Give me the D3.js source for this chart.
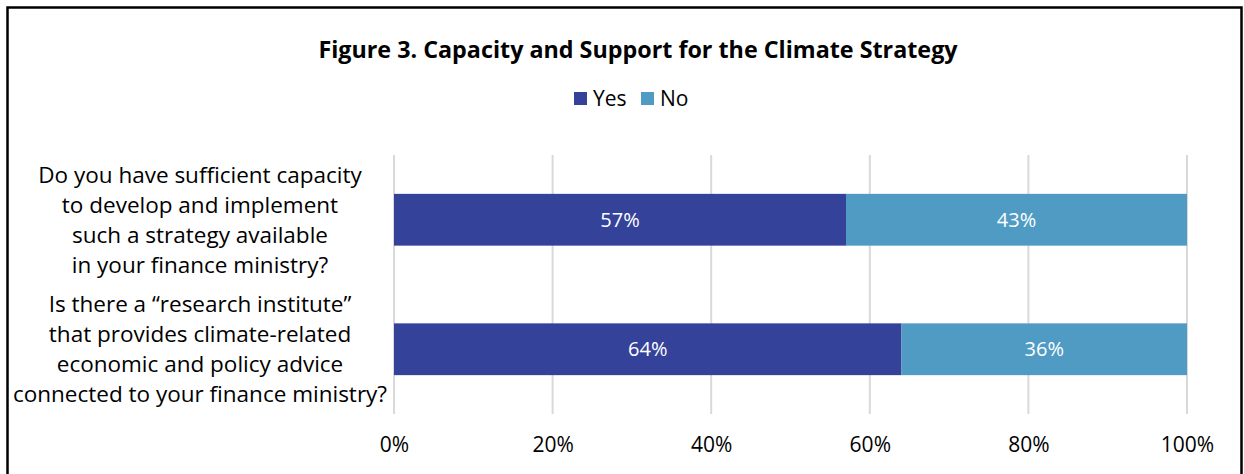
<!DOCTYPE html>
<html>
<head>
<meta charset="utf-8">
<script src="https://cdn.jsdelivr.net/npm/d3@7"></script>
<style>
  body { margin: 0; background: #fff; }
  svg { display: block; font-family: "Open Sans", Lato, sans-serif; }
</style>
</head>
<body>
<div id="chart"></div>
<script>
// chart data
var questions = [
  ["Do you have sufficient capacity", "to develop and implement", "such a strategy available", "in your finance ministry?"],
  ["Is there a \u201cresearch institute\u201d", "that provides climate-related", "economic and policy advice", "connected to your finance ministry?"]
];
var seriesNames = ["Yes", "No"];
var yesValues = [57, 64];
var noValues = [43, 36];
var tickValues = [0, 20, 40, 60, 80, 100];
var colors = ["#34429a", "#4f9bc4"];

var W = 1244, H = 474;
var margin = {top: 155, right: 57, bottom: 60, left: 394};

var svg = d3.select("#chart").append("svg")
  .attr("width", W)
  .attr("height", H);

// frame
svg.append("rect")
  .attr("x", 7.5).attr("y", 7.5)
  .attr("width", 1234).attr("height", 480)
  .attr("fill", "none")
  .attr("stroke", "#000")
  .attr("stroke-width", 2.5);

// title
svg.append("text")
  .attr("x", 638).attr("y", 58)
  .attr("text-anchor", "middle")
  .attr("font-size", 23.3)
  .attr("font-weight", "bold")
  .text("Figure 3. Capacity and Support for the Climate Strategy");

var x = d3.scaleLinear().domain([0, 100]).range([margin.left, 1187]);
var y = d3.scaleBand().domain(d3.range(questions.length))
  .range([155, 414]).paddingInner(0.6).paddingOuter(0.3);

// gridlines
svg.append("g").selectAll("line")
  .data(tickValues)
  .enter().append("line")
  .attr("x1", function(d) { return x(d); })
  .attr("x2", function(d) { return x(d); })
  .attr("y1", 155).attr("y2", 414)
  .attr("stroke", "#d9d9d9")
  .attr("stroke-width", 2);

// x axis labels
var xAxis = d3.axisBottom(x).tickValues(tickValues)
  .tickFormat(function(d) { return d + "%"; }).tickSize(0).tickPadding(0);
var gx = svg.append("g").attr("transform", "translate(0,437)").call(xAxis);
gx.select(".domain").remove();
gx.selectAll("text").attr("font-size", 21).attr("font-family", "'Open Sans', sans-serif").attr("fill", "#000");

// stacked bars
var rows = questions.map(function(q, i) { return {i: i, Yes: yesValues[i], No: noValues[i]}; });
var stacked = d3.stack().keys(seriesNames)(rows);

var layer = svg.append("g").selectAll("g")
  .data(stacked)
  .enter().append("g")
  .attr("fill", function(d, i) { return colors[i]; });

layer.selectAll("rect")
  .data(function(d) { return d; })
  .enter().append("rect")
  .attr("x", function(d) { return x(d[0]); })
  .attr("width", function(d) { return x(d[1]) - x(d[0]); })
  .attr("y", function(d) { return y(d.data.i); })
  .attr("height", y.bandwidth());

layer.selectAll("text")
  .data(function(d) { return d; })
  .enter().append("text")
  .attr("x", function(d) { return (x(d[0]) + x(d[1])) / 2; })
  .attr("y", function(d) { return y(d.data.i) + y.bandwidth() / 2; })
  .attr("dy", "0.35em")
  .attr("text-anchor", "middle")
  .attr("fill", "#fff")
  .attr("font-size", 20)
  .text(function(d) { return (d[1] - d[0]) + "%"; });

// category labels
var lineH = 30;
svg.append("g").selectAll("text")
  .data(questions)
  .enter().append("text")
  .attr("text-anchor", "middle")
  .attr("font-size", 22.5)
  .attr("fill", "#000")
  .each(function(lines, i) {
    var cy = y(i) + y.bandwidth() / 2;
    var t = d3.select(this);
    lines.forEach(function(l, k) {
      t.append("tspan")
        .attr("x", 200)
        .attr("y", cy + (k - (lines.length - 1) / 2) * lineH)
        .attr("dy", "0.35em")
        .text(l);
    });
  });

// legend
var legend = svg.append("g").selectAll("g")
  .data(seriesNames)
  .enter().append("g")
  .attr("transform", function(d, i) { return "translate(" + (574 + i * 67) + ",92)"; });
legend.append("rect")
  .attr("width", 13).attr("height", 13)
  .attr("fill", function(d, i) { return colors[i]; });
legend.append("text")
  .attr("x", 19).attr("y", 6.5).attr("dy", "0.35em")
  .attr("font-size", 21)
  .text(function(d) { return d; });
</script>
</body>
</html>
